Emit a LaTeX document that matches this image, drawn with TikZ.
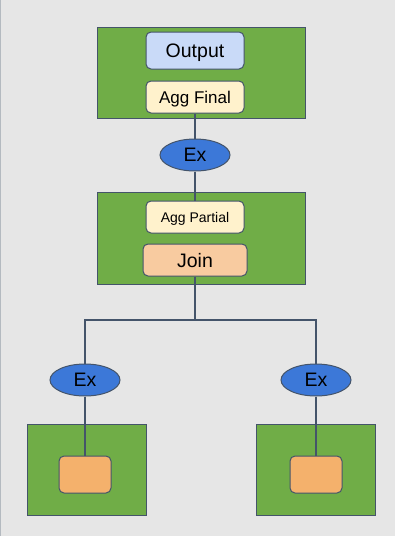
\documentclass[tikz,border=0pt]{standalone}
\usepackage{fontspec}
\setmainfont{Liberation Sans}
\usetikzlibrary{shapes.geometric}
\definecolor{paper}{HTML}{E6E6E6}
\definecolor{rim}{HTML}{B4BAC0}
\definecolor{slate}{HTML}{44546A}
\definecolor{stage}{HTML}{70AD47}
\definecolor{outfill}{HTML}{C9DAF8}
\definecolor{aggfill}{HTML}{FFF2CC}
\definecolor{joinfill}{HTML}{F8CBA0}
\definecolor{scanfill}{HTML}{F4B16C}
\definecolor{exfill}{HTML}{3C78D8}
\begin{document}
\begin{tikzpicture}[x=1pt,y=-1pt,font=\fontsize{19.5}{22}\selectfont,
  stagebox/.style={draw=slate,line width=1pt,fill=stage,inner sep=0,minimum width=208,minimum height=91},
  leafbox/.style={draw=slate,line width=1pt,fill=stage,inner sep=0,minimum width=119,minimum height=91},
  op/.style={draw=slate,line width=1pt,rounded corners=5pt,inner sep=0,text height=14pt,text depth=0pt,minimum width=98,minimum height=32},
  xchg/.style={draw=slate,line width=1pt,fill=exfill,ellipse,inner sep=0,minimum width=70,minimum height=32},
  link/.style={draw=slate,line width=2.2pt}]
\useasboundingbox (0,0) rectangle (395,536);
\fill[paper] (0,0) rectangle (395,536);
\draw[rim,line width=1pt] (0.5,0)--(0.5,536);
% fragments
\node[stagebox] (top) at (201,72.5) {};
\node[stagebox,minimum height=92] (mid) at (201,238) {};
\node[leafbox] (leftleaf) at (86.5,469.5) {};
\node[leafbox] (rightleaf) at (315.5,469.5) {};
% operators
\node[op,fill=outfill,minimum height=37] (output) at (195,50.5) {Output};
\node[op,fill=aggfill,text height=12.2pt,font=\fontsize{17}{20}\selectfont] (aggfinal) at (195,97) {Agg Final};
\node[xchg] (ex) at (195,155) {Ex};
\node[op,fill=aggfill,text height=10pt,font=\fontsize{14}{17}\selectfont] (aggpartial) at (195,217) {Agg Partial};
\node[op,fill=joinfill,minimum width=104] (join) at (195,260) {Join};
\node[xchg] (exleft) at (85,380) {Ex};
\node[xchg] (exright) at (316,380) {Ex};
\node[op,fill=scanfill,minimum width=52,minimum height=37] (scanleft) at (85,474.5) {};
\node[op,fill=scanfill,minimum width=52,minimum height=37] (scanright) at (316,474.5) {};
\coordinate (fork) at (195,320);
% connectors
\draw[link] (aggfinal.south)--(ex.north);
\draw[link] (ex.south)--(aggpartial.north);
\draw[link] (join.south)--(fork);
\draw[link] (fork)-|(exleft.north);
\draw[link] (fork)-|(exright.north);
\draw[link] (exleft.south)--(scanleft.north);
\draw[link] (exright.south)--(scanright.north);
\end{tikzpicture}
\end{document}
